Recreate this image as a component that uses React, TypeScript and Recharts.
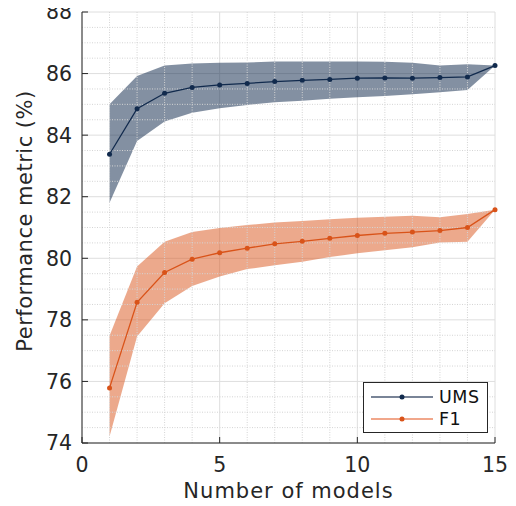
import React from 'react';
import {
  ComposedChart,
  Area,
  Line,
  XAxis,
  YAxis,
  CartesianGrid,
  ReferenceLine,
  Label,
} from 'recharts';

const models = [1, 2, 3, 4, 5, 6, 7, 8, 9, 10, 11, 12, 13, 14, 15];

const umsMean = [83.38, 84.86, 85.36, 85.55, 85.63, 85.68, 85.74, 85.78, 85.81, 85.85, 85.86, 85.85, 85.87, 85.89, 86.26];
const umsLow = [81.8, 83.81, 84.44, 84.73, 84.87, 84.98, 85.07, 85.12, 85.18, 85.23, 85.27, 85.33, 85.39, 85.47, 86.26];
const umsHigh = [85.0, 85.92, 86.26, 86.33, 86.35, 86.36, 86.39, 86.39, 86.39, 86.39, 86.38, 86.35, 86.26, 86.3, 86.26];

const f1Mean = [75.79, 78.57, 79.54, 79.97, 80.18, 80.33, 80.47, 80.55, 80.65, 80.74, 80.81, 80.85, 80.9, 81.0, 81.58];
const f1Low = [74.21, 77.46, 78.54, 79.1, 79.41, 79.65, 79.77, 79.89, 80.04, 80.16, 80.26, 80.36, 80.51, 80.54, 81.58];
const f1High = [77.48, 79.73, 80.54, 80.85, 80.98, 81.08, 81.16, 81.21, 81.27, 81.32, 81.35, 81.38, 81.33, 81.44, 81.58];

const xTicks = [0, 5, 10, 15];
const yTicks = [74, 76, 78, 80, 82, 84, 86, 88];
const xMinor = [1, 2, 3, 4, 6, 7, 8, 9, 11, 12, 13, 14];
const yMinor = [74.5, 75, 75.5, 76.5, 77, 77.5, 78.5, 79, 79.5, 80.5, 81, 81.5, 82.5, 83, 83.5, 84.5, 85, 85.5, 86.5, 87, 87.5];

const data = models.map((m, i) => ({
  x: m,
  ums: umsMean[i],
  umsBand: [umsLow[i], umsHigh[i]],
  f1: f1Mean[i],
  f1Band: [f1Low[i], f1High[i]],
}));

const NAVY = '#112a4d';
const ORANGE = '#d95319';
const AXIS = '#262626';
const FONT = '"DejaVu Sans", sans-serif';

const BottomTick = (props: any) => {
  const { x, y, payload } = props;
  const axisY = y - 8;
  return (
    <g>
      <line x1={x} x2={x} y1={axisY} y2={axisY - 6} stroke={AXIS} strokeWidth={1} />
      <text x={x} y={axisY + 28.7} textAnchor="middle" fill={AXIS} fontSize={20.5} fontFamily={FONT}>
        {payload.value}
      </text>
    </g>
  );
};

const TopTick = (props: any) => {
  const { x, y } = props;
  const axisY = y + 8;
  return <line x1={x} x2={x} y1={axisY} y2={axisY + 6} stroke="#555" strokeWidth={1} />;
};

const LeftTick = (props: any) => {
  const { x, y, payload } = props;
  const axisX = x + 8;
  return (
    <g>
      <line x1={axisX} x2={axisX + 6} y1={y} y2={y} stroke={AXIS} strokeWidth={1} />
      <text x={axisX - 10} y={y} dy="0.36em" textAnchor="end" fill={AXIS} fontSize={20.5} fontFamily={FONT}>
        {payload.value}
      </text>
    </g>
  );
};

const RightTick = (props: any) => {
  const { x, y } = props;
  const axisX = x - 8;
  return <line x1={axisX} x2={axisX - 6} y1={y} y2={y} stroke="#555" strokeWidth={1} />;
};

const LegendBox = () => (
  <svg width={125} height={51} style={{ position: 'absolute', left: 363, top: 382, display: 'block' }}>
    <rect x={0.5} y={0.5} width={124} height={50} fill="#fff" stroke={AXIS} strokeWidth={1} />
    <line x1={8} x2={70} y1={15} y2={15} stroke="#4c5b74" strokeWidth={1.5} />
    <circle cx={39} cy={15} r={2.5} fill={NAVY} />
    <text x={76} y={15} dy="0.36em" fontSize={17.5} letterSpacing={0.5} fontFamily={FONT} fill="#111">UMS</text>
    <line x1={8} x2={70} y1={37} y2={37} stroke="#ec8a64" strokeWidth={1.5} />
    <circle cx={39} cy={37} r={2.5} fill={ORANGE} />
    <text x={76} y={37} dy="0.36em" fontSize={17.5} letterSpacing={0.5} fontFamily={FONT} fill="#111">F1</text>
  </svg>
);

export default function App() {
  return (
    <div style={{ position: 'relative', width: 516, height: 506, margin: '-8px 0 0 -8px', fontFamily: FONT }}>
      <ComposedChart width={516} height={506} data={data} margin={{ top: 12, right: 21, bottom: 0, left: 0 }}>
        <CartesianGrid stroke="#dedede" strokeWidth={1} />
        {xMinor.map((v) => (
          <ReferenceLine key={`vx-${v}`} x={v} stroke="#d4d4d4" strokeDasharray="1 1.5" ifOverflow="hidden" />
        ))}
        {yMinor.map((v) => (
          <ReferenceLine key={`hy-${v}`} y={v} stroke="#d4d4d4" strokeDasharray="1 1.5" ifOverflow="hidden" />
        ))}
        <XAxis
          dataKey="x"
          type="number"
          domain={[0, 15]}
          ticks={xTicks}
          height={63}
          axisLine={{ stroke: AXIS }}
          tickLine={false}
          tickSize={0}
          tickMargin={8}
          tick={<BottomTick />}
          interval={0}
        >
          <Label
            content={(p: any) => {
              const vb = p.viewBox;
              return (
                <text
                  x={vb.x + vb.width / 2}
                  y={vb.y + 55.3}
                  textAnchor="middle"
                  fontSize={21}
                  letterSpacing={1}
                  fontFamily={FONT}
                  fill={AXIS}
                >
                  Number of models
                </text>
              );
            }}
          />
        </XAxis>
        <XAxis
          xAxisId="top"
          orientation="top"
          dataKey="x"
          type="number"
          domain={[0, 15]}
          ticks={xTicks}
          height={0}
          axisLine={{ stroke: '#555' }}
          tickLine={false}
          tickSize={0}
          tickMargin={8}
          tick={<TopTick />}
          interval={0}
        />
        <YAxis
          type="number"
          domain={[74, 88]}
          ticks={yTicks}
          width={82}
          axisLine={{ stroke: AXIS }}
          tickLine={false}
          tickSize={0}
          tickMargin={8}
          tick={<LeftTick />}
          interval={0}
        >
          <Label
            content={(p: any) => {
              const vb = p.viewBox;
              const cx = vb.x + 31.5;
              const cy = 221;
              return (
                <text
                  x={cx}
                  y={cy}
                  transform={`rotate(-90 ${cx} ${cy})`}
                  textAnchor="middle"
                  fontSize={21}
                  letterSpacing={0.5}
                  fontFamily={FONT}
                  fill={AXIS}
                >
                  Performance metric (%)
                </text>
              );
            }}
          />
        </YAxis>
        <YAxis
          yAxisId="right"
          orientation="right"
          type="number"
          domain={[74, 88]}
          ticks={yTicks}
          width={0}
          axisLine={{ stroke: '#555' }}
          tickLine={false}
          tickSize={0}
          tickMargin={8}
          tick={<RightTick />}
          interval={0}
        />
        <Area dataKey="umsBand" stroke="none" fill={NAVY} fillOpacity={0.52} isAnimationActive={false} legendType="none" />
        <Area dataKey="f1Band" stroke="none" fill={ORANGE} fillOpacity={0.5} isAnimationActive={false} legendType="none" />
        <Line
          dataKey="ums"
          name="UMS"
          stroke={NAVY}
          strokeWidth={1.3}
          dot={{ r: 2.5, fill: NAVY, stroke: 'none' }}
          isAnimationActive={false}
        />
        <Line
          dataKey="f1"
          name="F1"
          stroke={ORANGE}
          strokeWidth={1.3}
          dot={{ r: 2.5, fill: ORANGE, stroke: 'none' }}
          isAnimationActive={false}
        />
      </ComposedChart>
      <LegendBox />
    </div>
  );
}
